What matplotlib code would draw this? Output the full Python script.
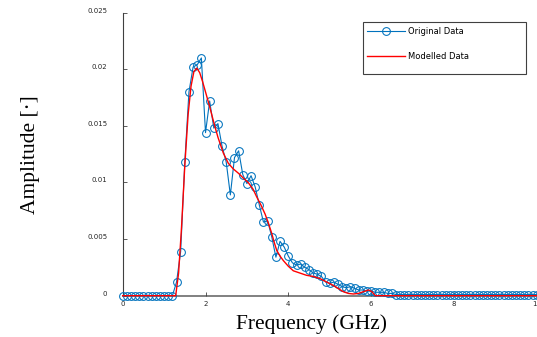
import numpy as np
import matplotlib
matplotlib.use("Agg")
import matplotlib.pyplot as plt
from matplotlib.patches import Rectangle

# measured spectrum, sampled every 0.1 GHz from 0 to 10 GHz
freq = np.round(np.arange(0, 101) * 0.1, 2)
original = [
    0.0, 0.0, 0.0, 0.0, 0.0, 0.0, 0.0, 0.0, 0.0, 0.0,
    0.0, 0.0, 0.0, 0.0012, 0.0039, 0.0118, 0.0180, 0.0202, 0.0204, 0.0210,
    0.0144, 0.0172, 0.0148, 0.0152, 0.0132, 0.0118, 0.0089, 0.0122, 0.0128, 0.0107,
    0.0099, 0.0106, 0.0096, 0.0080, 0.0065, 0.0066, 0.0052, 0.0034, 0.0048, 0.0043,
    0.0035, 0.0029, 0.0027, 0.0028, 0.0025, 0.0023, 0.0020, 0.0019, 0.0017, 0.0012,
    0.0011, 0.0012, 0.0010, 0.0008, 0.0007, 0.0008, 0.00065, 0.0005, 0.0005, 0.0004,
    0.0004, 0.0003, 0.0003, 0.0003, 0.0002, 0.0002, 0.0001, 0.0001, 0.0001, 0.0001,
    0.0001, 0.0001, 0.0001, 0.0001, 0.0001, 0.0001, 0.0001, 0.0001, 0.0001, 0.0001,
    0.0001, 0.0001, 0.0001, 0.0001, 0.0001, 0.0001, 0.0001, 0.0001, 0.0001, 0.0001,
    0.0001, 0.0001, 0.0001, 0.0001, 0.0001, 0.0001, 0.0001, 0.0001, 0.0001, 0.0001,
    0.0001,
]

model_freq = [0.0, 1.28, 1.35, 1.42, 1.50, 1.58, 1.65, 1.72, 1.79, 1.86,
              1.93, 2.00, 2.10, 2.20, 2.30, 2.43, 2.55, 2.67, 2.80, 2.91,
              3.03, 3.15, 3.24, 3.34, 3.44, 3.52, 3.60, 3.66, 3.72, 3.80,
              3.88, 4.00, 4.12, 4.28, 4.44, 4.60, 4.77, 4.93, 5.09, 5.22,
              5.33, 5.45, 5.57, 5.70, 5.81, 5.94, 6.02, 6.10, 10.0]
model_val = [0.0, 0.0, 0.0020, 0.0060, 0.0115, 0.0160, 0.0185, 0.0198, 0.0201, 0.0197,
             0.0189, 0.0180, 0.0167, 0.0153, 0.0140, 0.0126, 0.0117, 0.0112, 0.0108, 0.0104,
             0.0100, 0.0094, 0.0087, 0.0080, 0.0072, 0.0064, 0.0055, 0.0047, 0.0040, 0.0035,
             0.0031, 0.0026, 0.0022, 0.0020, 0.0018, 0.0017, 0.0015, 0.0012, 0.0009, 0.0006,
             0.00035, 0.0002, 0.00015, 0.0002, 0.00035, 0.0005, 0.00035, 0.0, 0.0]

xticks = [0, 2, 4, 6, 8, 10]
yticks = [0, 0.005, 0.01, 0.015, 0.02, 0.025]
ytick_labels = ["0", "0.005", "0.01", "0.015", "0.02", "0.025"]

BLUE = "#0072BD"
RED = "#FF0000"

fig = plt.figure(figsize=(5.37, 3.37), dpi=100)
ax = fig.add_axes([0.2285, 0.1226, 0.771, 0.8398])

ax.plot(freq, original, color=BLUE, lw=0.8, marker="o", ms=5.6,
        mfc="none", mec=BLUE, mew=0.75, label="Original Data", zorder=3,
        clip_on=False)
ax.plot(model_freq, model_val, color=RED, lw=1.0, label="Modelled Data",
        zorder=4, clip_on=False)

ax.set_xlim(0, 10)
ax.set_ylim(0, 0.025)
ax.set_xticks(xticks)
ax.set_xticklabels([str(t) for t in xticks])
ax.set_yticks(yticks)
ax.set_yticklabels(ytick_labels)

for s in ["top", "right"]:
    ax.spines[s].set_visible(False)
ax.spines["left"].set_color("#404040")
ax.spines["left"].set_linewidth(0.8)
ax.spines["bottom"].set_color("#808080")
ax.spines["bottom"].set_linewidth(1.4)
ax.spines["bottom"].set_zorder(1)

ax.tick_params(axis="both", direction="in", length=3, width=0.6,
               color="#404040", labelsize=5, labelcolor="#262626")
ax.tick_params(axis="y", pad=11)
ax.tick_params(axis="x", pad=4)
plt.setp(ax.get_yticklabels(), va="baseline")

ax.set_xlabel("Frequency (GHz)", family="Liberation Serif", fontsize=15.5)
ax.set_ylabel("Amplitude [\u00b7]", family="Liberation Serif", fontsize=15.5)
ax.xaxis.set_label_coords(0.457, -0.066)
ax.yaxis.set_label_coords(-0.2, 0.5)

leg = ax.legend(loc="upper left", bbox_to_anchor=(0.5894, 0.951),
                frameon=False, fontsize=6, borderpad=0, borderaxespad=0,
                handlelength=4.6, handletextpad=0.4, labelspacing=2.0)
ax.add_patch(Rectangle((0.580, 0.782), 0.394, 0.185, transform=ax.transAxes,
                       fill=False, ec="#404040", lw=0.8, zorder=5))

fig.savefig("out.png", dpi=100, facecolor="white")
plt.close(fig)
